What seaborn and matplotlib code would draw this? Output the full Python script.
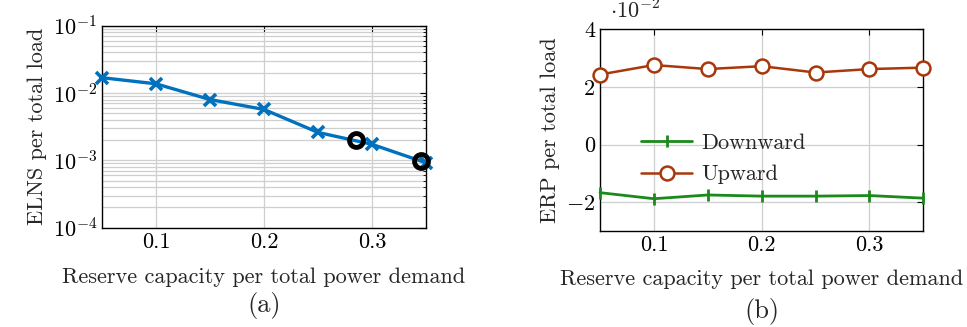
import numpy as np
import pandas as pd
import matplotlib
matplotlib.use("Agg")
import matplotlib.pyplot as plt
from matplotlib.ticker import FuncFormatter, LogLocator, NullFormatter
import seaborn as sns

# data
reserve = [0.05, 0.10, 0.15, 0.20, 0.25, 0.30, 0.35]
elns = [0.0169, 0.0137, 0.0080, 0.0057, 0.0026, 0.00173, 0.00092]
marked_x = [0.285, 0.345]
marked_elns = [0.0020, 0.00098]
erp_down = [-0.0167, -0.0188, -0.0175, -0.0179, -0.0179, -0.0177, -0.0186]
erp_up = [0.0243, 0.0276, 0.0262, 0.0272, 0.0250, 0.0262, 0.0267]

sns.set_style("whitegrid")
plt.rcParams["font.family"] = ["cmr10", "DejaVu Serif"]
plt.rcParams["mathtext.fontset"] = "cm"
plt.rcParams["axes.unicode_minus"] = False
plt.rcParams["axes.formatter.use_mathtext"] = True

blue = "#0072BD"
green = "#1A8A1A"
orange = "#A8380A"
gridc = "#cfcfcf"
fs = 16

fig = plt.figure(figsize=(9.67, 3.27), dpi=100)
ax1 = fig.add_axes([0.1055, 0.3037, 0.335, 0.6177])
ax2 = fig.add_axes([0.6205, 0.2936, 0.3343, 0.6168])

# (a)
ax1.set_yscale("log")
df_a = pd.DataFrame({"reserve": reserve, "elns": elns})
sns.lineplot(data=df_a, x="reserve", y="elns", ax=ax1, color=blue, lw=2.4,
             marker="x", markersize=9, markeredgewidth=2.6, markeredgecolor=blue,
             clip_on=False, zorder=3)
ax1.plot(marked_x, marked_elns, ls="none", marker="o", markersize=10,
         markerfacecolor="none", markeredgecolor="black", markeredgewidth=3.5,
         clip_on=False, zorder=4)
ax1.set_xlim(0.05, 0.35)
ax1.set_ylim(1e-4, 1e-1)
ax1.set_xticks([0.1, 0.2, 0.3])
ax1.set_xticklabels(["0.1", "0.2", "0.3"])
ax1.yaxis.set_major_locator(LogLocator(base=10, numticks=10))
ax1.yaxis.set_minor_locator(LogLocator(base=10, subs=np.arange(2, 10), numticks=20))
ax1.yaxis.set_minor_formatter(NullFormatter())
ax1.grid(True, which="major", color=gridc, lw=0.9)
ax1.grid(True, which="minor", axis="y", color=gridc, lw=0.9)
ax1.set_xlabel("Reserve capacity per total power demand", fontsize=fs, labelpad=11)
ax1.set_ylabel("ELNS per total load", fontsize=fs, labelpad=4)
ax1.text(0.5, -0.385, "(a)", transform=ax1.transAxes, ha="center", va="center", fontsize=19)

# (b)
df_b = pd.DataFrame({"reserve": reserve * 2,
                     "erp": erp_down + erp_up,
                     "dir": ["Downward"] * 7 + ["Upward"] * 7})
sns.lineplot(data=df_b[df_b["dir"] == "Downward"], x="reserve", y="erp", ax=ax2,
             color=green, lw=2.0, marker="|", markersize=9, markeredgewidth=2.0,
             markeredgecolor=green, label="Downward", clip_on=False, zorder=3)
sns.lineplot(data=df_b[df_b["dir"] == "Upward"], x="reserve", y="erp", ax=ax2,
             color=orange, lw=1.8, marker="o", markersize=10, markeredgewidth=1.8,
             markerfacecolor="white", markeredgecolor=orange, label="Upward",
             clip_on=False, zorder=3)
ax2.set_xlim(0.05, 0.35)
ax2.set_ylim(-0.03, 0.04)
ax2.set_xticks([0.1, 0.2, 0.3])
ax2.set_xticklabels(["0.1", "0.2", "0.3"])
ax2.set_yticks([-0.02, 0.0, 0.02, 0.04])
ax2.yaxis.set_major_formatter(FuncFormatter(lambda v, _: "$-2$" if v < -0.01 else "%d" % round(v * 100)))
ax2.grid(True, which="major", color=gridc, lw=0.9)
ax2.text(0.03, 1.035, r"$\cdot 10^{-2}$", transform=ax2.transAxes, fontsize=fs, va="bottom")
ax2.set_xlabel("Reserve capacity per total power demand", fontsize=fs, labelpad=10)
ax2.set_ylabel("ERP per total load", fontsize=fs, labelpad=4)
ax2.text(0.5, -0.40, "(b)", transform=ax2.transAxes, ha="center", va="center", fontsize=19)
ax2.legend(loc="upper left", bbox_to_anchor=(0.1, 0.53), frameon=False, fontsize=fs,
           handlelength=2.3, handletextpad=0.4, labelspacing=0.55, borderaxespad=0)

for ax in (ax1, ax2):
    for s in ax.spines.values():
        s.set_color("black")
        s.set_linewidth(1.0)
    ax.tick_params(axis="both", which="both", direction="in", top=True, right=True,
                   labelsize=fs, colors="black", length=4)
    ax.tick_params(which="minor", length=2.5)

fig.savefig("out.png", dpi=100)
